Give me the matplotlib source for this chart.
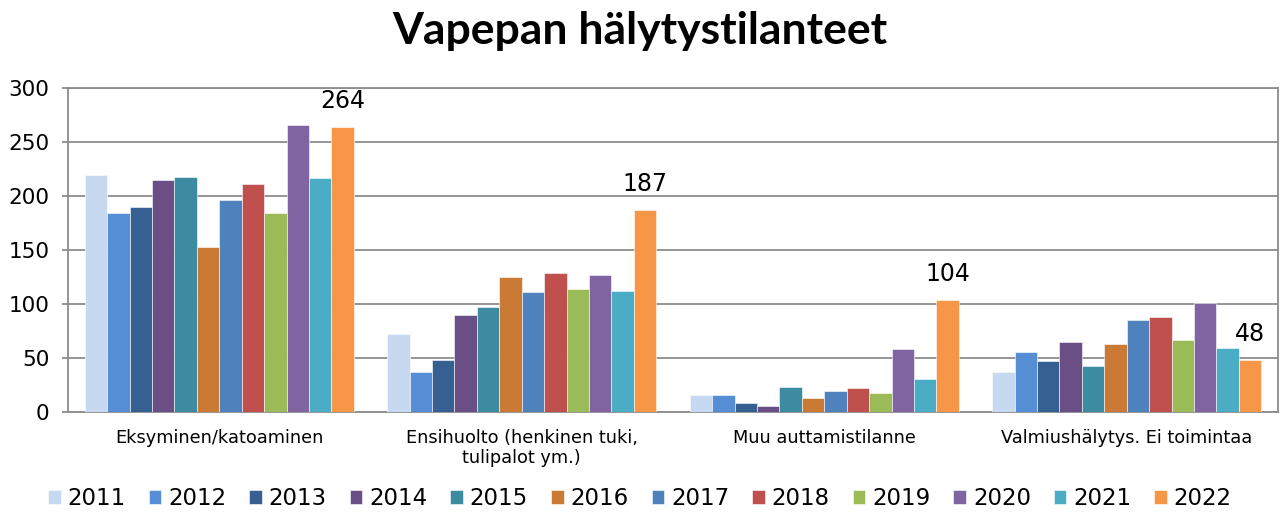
import matplotlib
matplotlib.use("Agg")
import matplotlib.pyplot as plt
import numpy as np

categories = ["Eksyminen/katoaminen", "Ensihuolto (henkinen tuki,\ntulipalot ym.)",
              "Muu auttamistilanne", "Valmiushälytys. Ei toimintaa"]
years = ["2011", "2012", "2013", "2014", "2015", "2016", "2017", "2018", "2019", "2020", "2021", "2022"]
values = {
    "2011": [219, 72, 16, 37],
    "2012": [184, 37, 16, 56],
    "2013": [190, 48, 8, 47],
    "2014": [215, 90, 6, 65],
    "2015": [218, 97, 23, 43],
    "2016": [153, 125, 13, 63],
    "2017": [196, 111, 19, 85],
    "2018": [211, 129, 22, 88],
    "2019": [184, 114, 18, 67],
    "2020": [266, 127, 58, 101],
    "2021": [217, 112, 31, 59],
    "2022": [264, 187, 104, 48],
}
colors = ["#C6D9F1", "#558ED5", "#366092", "#6A4F87", "#3C8BA0", "#CB7A35",
          "#4F81BD", "#C0504D", "#9BBB59", "#8064A2", "#4BACC6", "#F79646"]

fig = plt.figure(figsize=(12.8, 5.13), dpi=100)
ax = fig.add_axes([68/1280, 1-412/513, (1278-68)/1280, (412-88)/513])

n = len(years)
group_w = 0.89
bw = group_w / n
x = np.arange(len(categories))
for i, y in enumerate(years):
    pos = x - group_w/2 + bw*(i+0.5)
    bars = ax.bar(pos, values[y], width=bw, color=colors[i], label=y,
                  edgecolor="white", linewidth=0.4, zorder=3)
    if y == "2022":
        for b, v in zip(bars, values[y]):
            ax.annotate(str(v), (b.get_x()+b.get_width()/2, v), xytext=(0, 10),
                        textcoords="offset points", ha="center", va="bottom",
                        fontsize=17, color="black")

ax.set_xlim(-0.5, len(categories)-0.5)
ax.set_ylim(0, 300)
ax.set_yticks(range(0, 301, 50))
ax.yaxis.grid(True, color="#8C8C8C", linewidth=1.3, zorder=0)
ax.set_axisbelow(True)
ax.tick_params(axis="y", labelsize=15.5, length=4.5, width=1.3, color="#8C8C8C", pad=9)
ax.tick_params(axis="x", labelsize=12.8, length=0, pad=12)
ax.set_xticks(x)
ax.set_xticklabels(categories)
for s in ax.spines.values():
    s.set_color("#8C8C8C")
    s.set_linewidth(1.3)

fig.text(0.5, 0.94, "Vapepan hälytystilanteet", ha="center", va="center",
         fontsize=32, fontweight="bold", family=["Lato", "DejaVu Sans"])

fig.legend(loc="center", bbox_to_anchor=(0.5, 0.028), ncol=12, frameon=False,
           fontsize=16.5, handlelength=0.55, handleheight=0.55, handletextpad=0.3,
           columnspacing=1.0)

fig.savefig("out.png", dpi=100)
